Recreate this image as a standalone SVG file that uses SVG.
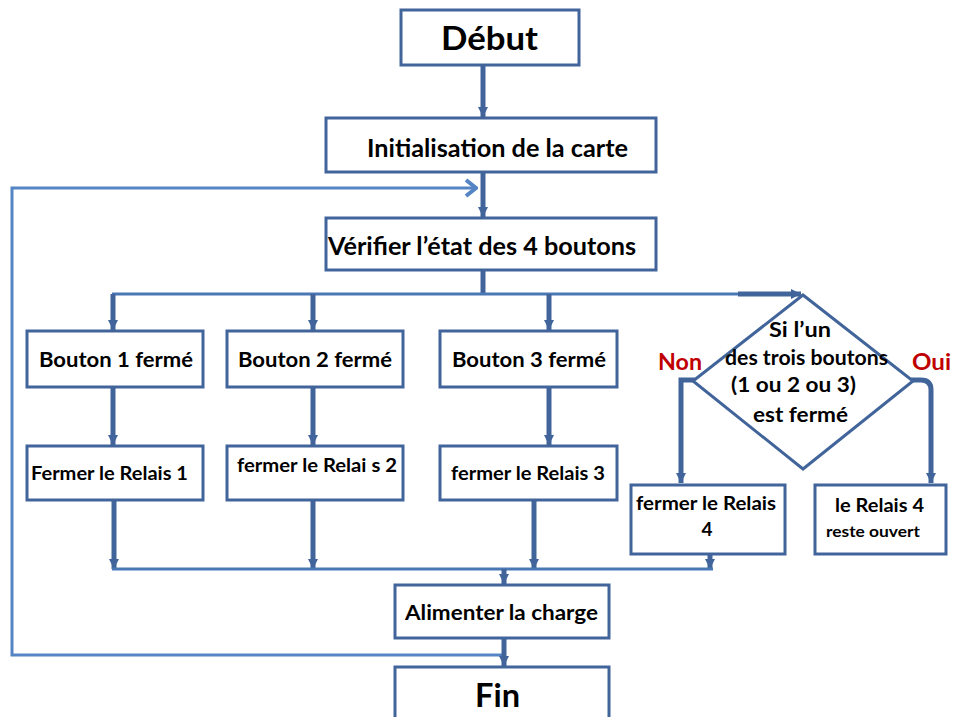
<svg xmlns="http://www.w3.org/2000/svg" width="955" height="717" viewBox="0 0 955 717">
<style>
.box{fill:#fff;stroke:#41659a;stroke-width:3}
.t{font-family:Lato,"Liberation Sans",sans-serif;font-weight:bold;fill:#000}
.red{font-family:Lato,"Liberation Sans",sans-serif;font-weight:bold;fill:#c00000}
.c{fill:none;stroke:#41659a;stroke-width:5}
.h{fill:none;stroke:#4a78b4;stroke-width:3}
.loop{fill:none;stroke:#5585c4;stroke-width:3}
</style>
<defs>
<marker id="arr" markerUnits="userSpaceOnUse" markerWidth="12" markerHeight="12" refX="10" refY="6" orient="auto">
<path d="M0,1 L10,6 L0,11 z" fill="#41659a"/>
</marker>
<marker id="open" markerUnits="userSpaceOnUse" markerWidth="16" markerHeight="20" refX="14" refY="10" orient="auto">
<path d="M4,2 L14,10 L4,18" fill="none" stroke="#5585c4" stroke-width="4"/>
</marker>
</defs>
<g id="connectors">
<line class="c" x1="483" y1="65" x2="483" y2="117" marker-end="url(#arr)"/>
<line class="c" x1="483" y1="172" x2="483" y2="217" marker-end="url(#arr)"/>
<polyline class="loop" points="504,655 12,655 12,188 476,188" marker-end="url(#open)"/>
<line class="c" x1="483" y1="270" x2="483" y2="294"/>
<line class="h" x1="112" y1="294" x2="740" y2="294"/>
<line class="c" x1="738" y1="294" x2="801" y2="294" marker-end="url(#arr)"/>
<line class="c" x1="113" y1="294" x2="113" y2="330" marker-end="url(#arr)"/>
<line class="c" x1="313" y1="294" x2="313" y2="330" marker-end="url(#arr)"/>
<line class="c" x1="549" y1="294" x2="549" y2="330" marker-end="url(#arr)"/>
<line class="c" x1="113" y1="387" x2="113" y2="445" marker-end="url(#arr)"/>
<line class="c" x1="313" y1="387" x2="313" y2="445" marker-end="url(#arr)"/>
<line class="c" x1="549" y1="387" x2="549" y2="445" marker-end="url(#arr)"/>
<line class="c" x1="114" y1="500" x2="114" y2="569" marker-end="url(#arr)"/>
<line class="c" x1="313" y1="500" x2="313" y2="569" marker-end="url(#arr)"/>
<line class="c" x1="534" y1="500" x2="534" y2="569" marker-end="url(#arr)"/>
<line class="c" x1="710" y1="554" x2="710" y2="569" marker-end="url(#arr)"/>
<line class="h" x1="112" y1="569" x2="713" y2="569"/>
<line class="c" x1="504" y1="569" x2="504" y2="584" marker-end="url(#arr)"/>
<line class="c" x1="504" y1="638" x2="504" y2="666" marker-end="url(#arr)"/>
<path class="c" d="M695,380 L681,380 L681,483" marker-end="url(#arr)"/>
<path class="c" d="M911,380 L921,380 Q931,380 931,390 L931,483" marker-end="url(#arr)"/>
</g>
<g id="debut">
<rect class="box" x="401" y="10" width="178" height="55"/>
<text class="t" x="441" y="50" font-size="32" textLength="97" lengthAdjust="spacingAndGlyphs">Début</text>
</g>
<g id="init">
<rect class="box" x="326" y="118" width="330" height="54"/>
<text class="t" x="367" y="157" font-size="24" textLength="261" lengthAdjust="spacingAndGlyphs">Initialisation de la carte</text>
</g>
<g id="verifier">
<rect class="box" x="326" y="218" width="330" height="52"/>
<text class="t" x="328" y="255" font-size="24" textLength="308" lengthAdjust="spacingAndGlyphs">Vérifier l’état des 4 boutons</text>
</g>
<g id="bouton1">
<rect class="box" x="27" y="331" width="176" height="56"/>
<text class="t" x="39" y="367" font-size="21" textLength="154" lengthAdjust="spacingAndGlyphs">Bouton 1 fermé</text>
</g>
<g id="bouton2">
<rect class="box" x="227" y="331" width="176" height="56"/>
<text class="t" x="238" y="367" font-size="21" textLength="154" lengthAdjust="spacingAndGlyphs">Bouton 2 fermé</text>
</g>
<g id="bouton3">
<rect class="box" x="440" y="331" width="177" height="56"/>
<text class="t" x="452" y="367" font-size="21" textLength="154" lengthAdjust="spacingAndGlyphs">Bouton 3 fermé</text>
</g>
<g id="relais1">
<rect class="box" x="27" y="446" width="176" height="54"/>
<text class="t" x="31" y="480" font-size="19" textLength="157" lengthAdjust="spacingAndGlyphs">Fermer le Relais 1</text>
</g>
<g id="relais2">
<rect class="box" x="227" y="446" width="176" height="54"/>
<text class="t" x="237" y="472" font-size="19" textLength="160" lengthAdjust="spacingAndGlyphs">fermer le Relai s 2</text>
</g>
<g id="relais3">
<rect class="box" x="440" y="446" width="177" height="54"/>
<text class="t" x="451" y="480" font-size="19" textLength="154" lengthAdjust="spacingAndGlyphs">fermer le Relais 3</text>
</g>
<g id="decision">
<polygon class="box" points="803,295 913,381 803,469 693,381"/>
<text class="t" x="769" y="337" font-size="20" textLength="62" lengthAdjust="spacingAndGlyphs">Si l’un</text>
<text class="t" x="725" y="365" font-size="20" textLength="163" lengthAdjust="spacingAndGlyphs">des trois boutons</text>
<text class="t" x="731" y="392" font-size="20" textLength="125" lengthAdjust="spacingAndGlyphs">(1 ou 2 ou 3)</text>
<text class="t" x="753" y="422" font-size="20" textLength="95" lengthAdjust="spacingAndGlyphs">est fermé</text>
<text class="red" x="658" y="370" font-size="23" textLength="44" lengthAdjust="spacingAndGlyphs">Non</text>
<text class="red" x="912" y="370" font-size="23" textLength="39" lengthAdjust="spacingAndGlyphs">Oui</text>
</g>
<g id="relais4">
<rect class="box" x="631" y="485" width="154" height="69"/>
<text class="t" x="636" y="510" font-size="19" textLength="140" lengthAdjust="spacingAndGlyphs">fermer le Relais</text>
<text class="t" x="707" y="536" font-size="19" text-anchor="middle">4</text>
</g>
<g id="relais4ouvert">
<rect class="box" x="815" y="485" width="131" height="69"/>
<text class="t" x="835" y="512" font-size="19" textLength="89" lengthAdjust="spacingAndGlyphs">le Relais 4</text>
<text class="t" x="826" y="537" font-size="15" textLength="94" lengthAdjust="spacingAndGlyphs">reste ouvert</text>
</g>
<g id="alimenter">
<rect class="box" x="395" y="585" width="214" height="53"/>
<text class="t" x="405" y="620" font-size="20" textLength="193" lengthAdjust="spacingAndGlyphs">Alimenter la charge</text>
</g>
<g id="fin">
<rect class="box" x="395" y="667" width="214" height="60"/>
<text class="t" x="475" y="707" font-size="32" textLength="45" lengthAdjust="spacingAndGlyphs">Fin</text>
</g>
</svg>
